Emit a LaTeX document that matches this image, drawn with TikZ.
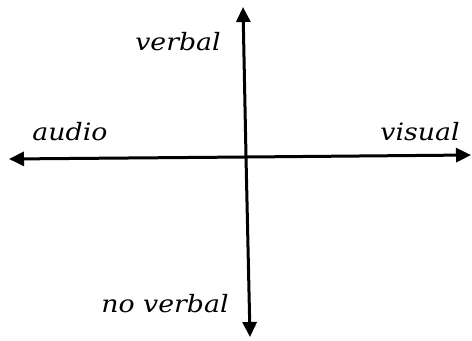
\documentclass[tikz,border=0pt]{standalone}
\usepackage{fontspec}
\setmainfont{DejaVu Serif}
\usetikzlibrary{arrows.meta}
\begin{document}
\begin{tikzpicture}[x=1bp,y=-1bp,
  axis/.style={line width=3bp,-{Triangle[length=15bp,width=14bp]}},
  lab/.style={font=\fontsize{24}{28}\selectfont\itshape,inner sep=0pt,anchor=base}]
\useasboundingbox (0,0) rectangle (472,340);
\coordinate (o) at (246,157);
\coordinate (l) at (9,159);
\coordinate (r) at (471,155);
\coordinate (t) at (243,7);
\coordinate (b) at (250,337);
\draw[axis] (o) -- (l);
\draw[axis] (o) -- (r);
\draw[axis] (o) -- (t);
\draw[axis] (o) -- (b);
\node[lab] (audio) at (70,140) {\scalebox{1.12}[1]{audio}};
\node[lab] (visual) at (420,140) {\scalebox{1.12}[1]{visual}};
\node[lab] (verbal) at (178,50) {\scalebox{1.12}[1]{verbal}};
\node[lab] (noverbal) at (165,312) {\scalebox{1.12}[1]{no verbal}};
\end{tikzpicture}
\end{document}
